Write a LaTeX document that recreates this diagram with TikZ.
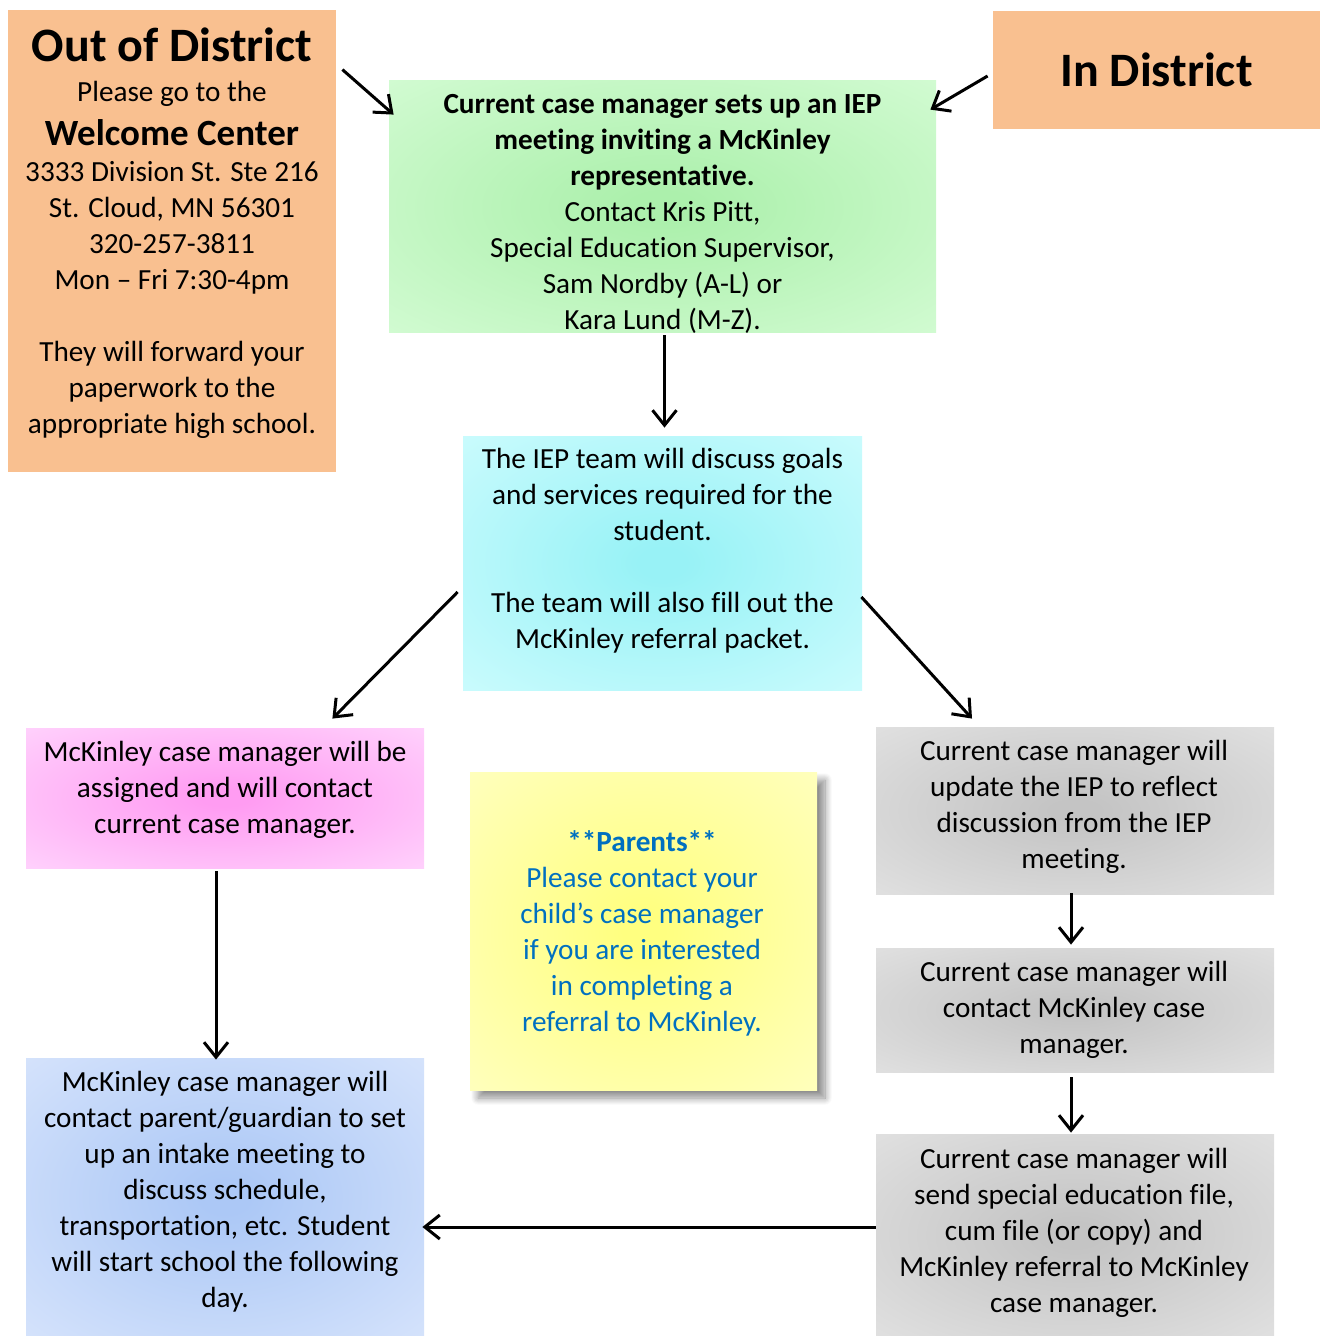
\documentclass[tikz,border=0pt]{standalone}
\usepackage{fontspec}
\setmainfont{Carlito}[Ligatures=NoCommon]
\usetikzlibrary{arrows.meta,shadows,shadows.blur,calc}
\definecolor{orangebox}{HTML}{F9C090}
\definecolor{greenin}{HTML}{ACF0AC}
\definecolor{greenout}{HTML}{DCFEDC}
\definecolor{cyanin}{HTML}{98F2F6}
\definecolor{cyanout}{HTML}{D8FEFF}
\definecolor{pinkin}{HTML}{FF9CF2}
\definecolor{pinkout}{HTML}{FFE0FF}
\definecolor{bluein}{HTML}{ACC8F6}
\definecolor{blueout}{HTML}{E0EAFD}
\definecolor{grayin}{HTML}{C4C4C4}
\definecolor{grayout}{HTML}{E8E8E8}
\definecolor{yellowin}{HTML}{FFFF80}
\definecolor{yellowout}{HTML}{FFFFCE}
\definecolor{parentblue}{HTML}{0070C0}
\colorlet{sin}{grayin}
\colorlet{sout}{grayout}
\pgfdeclareradialshading[sin,sout]{softglow}{\pgfpoint{0bp}{0bp}}{color(0bp)=(sin); color(3bp)=(sin); color(45bp)=(sout); color(100bp)=(sout)}
\begin{document}
\begin{tikzpicture}[x=0.5pt,y=-0.5pt,
  panel/.style={rectangle, inner sep=0pt, draw=none},
  glow/.style 2 args={/utils/exec={\colorlet{sin}{#1}\colorlet{sout}{#2}}, shading=softglow},
  txt/.style={inner sep=0pt, align=center, font=\fontsize{14.6}{18}\selectfont, text=black},
  arr/.style={-{Straight Barb[length=7.5pt,width=12pt]}, line width=1.5pt, black},
]
\useasboundingbox (0,0) rectangle (1320,1336);

% boxes
\node[panel, fill=orangebox, minimum width=164pt, minimum height=231pt] (ood) at (172,241) {};
\node[panel, fill=orangebox, minimum width=163.5pt, minimum height=59pt, font=\fontsize{24}{28}\selectfont\bfseries] (indist) at (1156.5,70) {In District};
\node[panel, glow={greenin}{greenout}, minimum width=273.5pt, minimum height=126pt] (green) at (662.5,207) {};
\node[panel, glow={cyanin}{cyanout}, minimum width=199.5pt, minimum height=127pt] (cyan) at (662.5,563) {};
\node[panel, glow={pinkin}{pinkout}, minimum width=199pt, minimum height=70pt] (pink) at (225,798) {};
\node[panel, glow={bluein}{blueout}, minimum width=199pt, minimum height=139pt] (blue) at (225,1197) {};
\node[panel, glow={grayin}{grayout}, minimum width=199pt, minimum height=83.5pt] (gray1) at (1075,810.5) {};
\node[panel, glow={grayin}{grayout}, minimum width=199pt, minimum height=62pt] (gray2) at (1075,1010) {};
\node[panel, glow={grayin}{grayout}, minimum width=199pt, minimum height=101pt] (gray3) at (1075,1235) {};
\node[panel, glow={yellowin}{yellowout}, minimum width=173.5pt, minimum height=159pt,
      blur shadow={shadow xshift=4pt, shadow yshift=-4pt, shadow blur steps=10, shadow blur radius=3.5pt, shadow opacity=45}] (yellow) at (643.5,931) {};

% texts
\node[txt, anchor=north] (oodtxt) at (172,27.5) {{\fontsize{24}{28}\selectfont\bfseries Out of District}\\[2pt]
  Please go to the\\[4pt]
  {\fontsize{18.5}{22}\selectfont\bfseries Welcome Center}\\
  3333 Division St. Ste 216\\
  St. Cloud, MN 56301\\
  320-257-3811\\
  Mon – Fri 7:30-4pm\\[18pt]
  They will forward your\\
  paperwork to the\\
  appropriate high school.};
\node[txt] (greentxt) at (662.5,213.5) {{\bfseries Current case manager sets up an IEP}\\
  {\bfseries meeting inviting a McKinley}\\
  {\bfseries representative.}\\
  Contact Kris Pitt,\\
  Special Education Supervisor,\\
  Sam Nordby (A-L) or\\
  Kara Lund (M-Z).};
\node[txt] (cyantxt) at (662.5,551) {The IEP team will discuss goals\\
  and services required for the\\
  student.\\[18pt]
  The team will also fill out the\\
  McKinley referral packet.};
\node[txt] (pinktxt) at (225,790) {McKinley case manager will be\\
  assigned and will contact\\
  current case manager.};
\node[txt] (bluetxt) at (225,1192) {McKinley case manager will\\
  contact parent/guardian to set\\
  up an intake meeting to\\
  discuss schedule,\\
  transportation, etc. Student\\
  will start school the following\\
  day.};
\node[txt] (gray1txt) at (1074,807) {Current case manager will\\
  update the IEP to reflect\\
  discussion from the IEP\\
  meeting.};
\node[txt] (gray2txt) at (1074,1010) {Current case manager will\\
  contact McKinley case\\
  manager.};
\node[txt] (gray3txt) at (1074,1232.5) {Current case manager will\\
  send special education file,\\
  cum file (or copy) and\\
  McKinley referral to McKinley\\
  case manager.};
\node[txt, text=parentblue] (yellowtxt) at (642,933.5) {{\bfseries **Parents**}\\
  Please contact your\\
  child’s case manager\\
  if you are interested\\
  in completing a\\
  referral to McKinley.};

% connectors
\draw[arr] ($(ood.north east)+(6,60)$) -- ($(green.north west)+(5,34)$);
\draw[arr] ($(indist.west)+(-5,6)$) -- ($(green.north east)+(-6,29)$);
\draw[arr] ($(green.south)+(2,2)$) -- ($(cyan.north)+(2,-8)$);
\draw[arr] ($(cyan.west)+(-5,29)$) -- ($(pink.north east)+(-92,-9)$);
\draw[arr] ($(cyan.east)+(-1,34)$) -- ($(gray1.north)+(-103,-8)$);
\draw[arr] ($(pink.south)+(-9,3)$) -- ($(blue.north)+(-9,2)$);
\draw[arr] ($(gray1.south)+(-4,-1)$) -- ($(gray2.north)+(-4,-3)$);
\draw[arr] ($(gray2.south)+(-4,5)$) -- ($(gray3.north)+(-4,-1)$);
\draw[arr] ($(gray3.west)+(0,-8)$) -- ($(blue.east)+(-2,30)$);
\end{tikzpicture}
\end{document}
